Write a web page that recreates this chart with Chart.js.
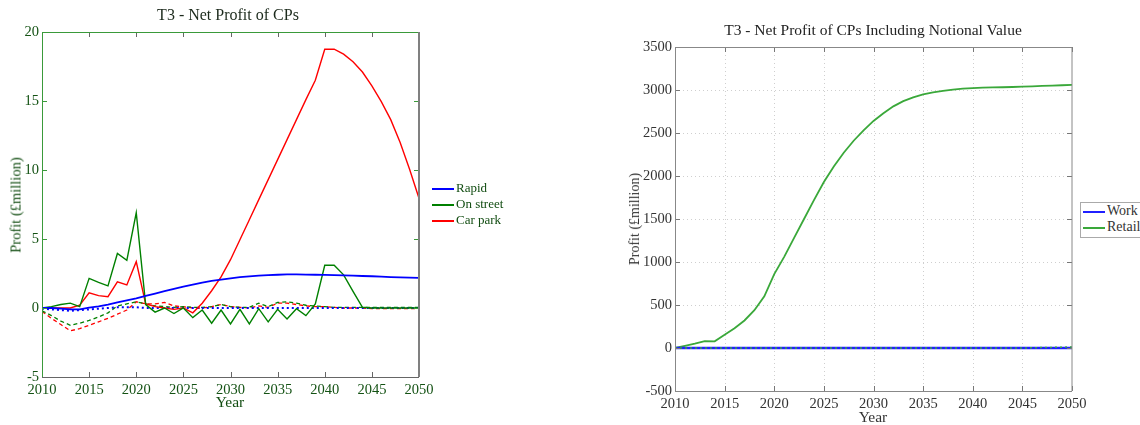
<!DOCTYPE html>
<html>
<head>
<meta charset="utf-8">
<script src="https://cdn.jsdelivr.net/npm/chart.js@4.4.0/dist/chart.umd.min.js"></script>
<style>
  body { margin: 0; width: 1140px; height: 425px; position: relative; overflow: hidden; background: #fff;
         font-family: "Liberation Serif", "DejaVu Serif", serif; }
  canvas { position: absolute; top: 0; }
  .txt { position: absolute; white-space: nowrap; transform: translate(-50%, -50%); }
  .rot { transform: translate(-50%, -50%) rotate(-90deg); }
  .leg { position: absolute; white-space: nowrap; font-size: 13px; line-height: 16px; }
  .leg i { display: inline-block; width: 22px; height: 0; vertical-align: middle; margin-right: 2px; }
</style>
</head>
<body>
<canvas id="cps" width="445" height="425" style="left:0"></canvas>
<canvas id="notional" width="540" height="425" style="left:600px"></canvas>

<!-- left panel text -->
<div class="txt" style="left:228px;top:15px;font-size:16px;color:#1c2a1c">T3 - Net Profit of CPs</div>
<div class="txt" style="left:230px;top:402px;font-size:15.5px;color:#124d12">Year</div>
<div class="txt rot" style="left:16px;top:205px;font-size:14.5px;color:#124d12">Profit (£million)</div>
<div class="leg" style="left:432px;top:180px;color:#124d12"><i style="border-top:2px solid #0000ff"></i>Rapid</div>
<div class="leg" style="left:432px;top:196px;color:#124d12"><i style="border-top:2px solid #008000"></i>On street</div>
<div class="leg" style="left:432px;top:212px;color:#124d12"><i style="border-top:2px solid #ff0000"></i>Car park</div>

<!-- right panel text -->
<div class="txt" style="left:873px;top:30px;font-size:15.5px;color:#222">T3 - Net Profit of CPs Including Notional Value</div>
<div class="txt" style="left:873px;top:417px;font-size:15.5px;color:#333">Year</div>
<div class="txt rot" style="left:635px;top:219px;font-size:14px;color:#333">Profit (£million)</div>
<div style="position:absolute;left:1080px;top:202px;width:80px;height:34px;border:1px solid #aaa;background:#fff"></div>
<div class="leg" style="left:1083px;top:203px;color:#333;font-size:14px"><i style="border-top:2px solid #2020ff"></i>Work</div>
<div class="leg" style="left:1083px;top:219px;color:#333;font-size:14px"><i style="border-top:2px solid #3aa83a"></i>Retail</div>

<script>
const years = [2010, 2011, 2012, 2013, 2014, 2015, 2016, 2017, 2018, 2019,
               2020, 2021, 2022, 2023, 2024, 2025, 2026, 2027, 2028, 2029,
               2030, 2031, 2032, 2033, 2034, 2035, 2036, 2037, 2038, 2039,
               2040, 2041, 2042, 2043, 2044, 2045, 2046, 2047, 2048, 2049, 2050];

// net profit (£million), solid lines
const rapid = [0, 0, -0.05, -0.1, -0.1, 0.02, 0.12, 0.25, 0.4, 0.55,
               0.7, 0.88, 1.05, 1.22, 1.38, 1.55, 1.7, 1.84, 1.96, 2.06,
               2.15, 2.23, 2.29, 2.34, 2.38, 2.41, 2.43, 2.43, 2.42, 2.41,
               2.4, 2.38, 2.36, 2.34, 2.32, 2.3, 2.27, 2.24, 2.22, 2.2, 2.18];
const onStreet = [0, 0.1, 0.25, 0.35, 0.1, 2.15, 1.85, 1.6, 3.95, 3.45,
                  6.9, 0.25, -0.3, 0, -0.4, 0, -0.7, -0.15, -1.1, -0.15,
                  -1.15, -0.1, -1.15, -0.05, -1.0, -0.1, -0.8, -0.05, -0.55, 0.3,
                  3.1, 3.1, 2.4, 1.2, 0.05, 0, 0, 0, 0, 0, 0];
const carPark = [0, 0, 0, 0, 0.2, 1.1, 0.9, 0.82, 1.9, 1.67,
                 3.36, 0.3, 0.1, 0, -0.1, 0, -0.35, 0.35, 1.25, 2.25,
                 3.5, 4.95, 6.4, 7.85, 9.3, 10.75, 12.2, 13.65, 15.1, 16.5,
                 18.75, 18.75, 18.4, 17.85, 17.1, 16.1, 14.95, 13.65, 12.0, 10.05, 7.95];

// dashed / dotted companions
const rapidDot = [-0.05, -0.1, -0.15, -0.2, -0.15, -0.1, -0.05, 0, 0.05, 0.05,
                  0.05, 0, 0, 0, 0, 0, 0, 0, 0, 0,
                  0, 0, 0, 0, 0, 0, 0, 0, 0, 0,
                  0, 0, 0, 0, 0, 0, 0, 0, 0, 0, 0];
const onStreetDash = [-0.2, -0.55, -0.95, -1.25, -1.1, -0.9, -0.65, -0.35, 0.15, 0.3,
                      0.45, 0.3, 0.15, 0.1, 0.05, 0.1, 0.05, 0.05, 0.1, 0.25,
                      0.1, 0.05, 0.05, 0.35, 0.1, 0.4, 0.45, 0.35, 0.2, 0.15,
                      0.1, 0.05, 0.05, 0.05, 0.05, 0.05, 0.05, 0.05, 0.05, 0.05, 0.05];
const carParkDash = [-0.25, -0.75, -1.2, -1.65, -1.5, -1.25, -1.0, -0.75, -0.45, -0.15,
                     0.45, 0.3, 0.3, 0.4, 0.15, 0.1, 0, 0, 0.1, 0.25,
                     0.1, 0.05, 0, 0.15, 0.05, 0.35, 0.35, 0.25, 0.15, 0.1,
                     0.1, 0.05, 0, 0, 0, -0.05, -0.05, -0.05, -0.05, -0.05, -0.05];

// including notional value
const work = [0, 0, 0, 0, 0, 0, 0, 0, 0, 0,
              0, 0, 0, 0, 0, 0, 0, 0, 0, 0,
              0, 0, 0, 0, 0, 0, 0, 0, 0, 0,
              0, 0, 0, 0, 0, 0, 0, 0, 0, 0, 0];
const retail = [0, 25, 50, 80, 78, 155, 230, 320, 440, 600,
                860, 1060, 1280, 1500, 1720, 1930, 2110, 2270, 2410, 2530,
                2640, 2730, 2810, 2870, 2915, 2950, 2972, 2990, 3005, 3015,
                3022, 3027, 3030, 3032, 3035, 3039, 3043, 3047, 3051, 3055, 3060];
const retailDot = [0, 0, 0, 0, 0, 0, 0, 0, 0, 0,
                   0, 0, 0, 0, 0, 0, 0, 0, 0, 0,
                   0, 0, 0, 0, 0, 0, 0, 0, 0, 0,
                   0, 0, 0, 0, 0, 0, 3, 5, 7, 9, 12];

const serif = '"Liberation Serif", "DejaVu Serif", serif';

function pts(vals) {
  return vals.map((v, i) => ({ x: years[i], y: v }));
}

function line(vals, color, width, dash) {
  return {
    data: pts(vals), borderColor: color, borderWidth: width, borderDash: dash || [],
    pointRadius: 0, fill: false, tension: 0
  };
}

// box round the axes with inward ticks, optional dotted grid
const frame = {
  id: 'frame',
  beforeDatasetsDraw(chart, args, o) {
    if (!o.grid) return;
    const { ctx, chartArea: a, scales: { x, y } } = chart;
    ctx.save();
    ctx.strokeStyle = o.grid;
    ctx.lineWidth = 1;
    ctx.setLineDash([1, 3]);
    x.ticks.forEach(t => {
      const px = Math.round(x.getPixelForValue(t.value)) + 0.5;
      if (px <= a.left + 1 || px >= a.right - 1) return;
      ctx.beginPath(); ctx.moveTo(px, a.top); ctx.lineTo(px, a.bottom); ctx.stroke();
    });
    y.ticks.forEach(t => {
      const py = Math.round(y.getPixelForValue(t.value)) + 0.5;
      if (py <= a.top + 1 || py >= a.bottom - 1) return;
      ctx.beginPath(); ctx.moveTo(a.left, py); ctx.lineTo(a.right, py); ctx.stroke();
    });
    ctx.restore();
  },
  afterDatasetsDraw(chart, args, o) {
    const { ctx, chartArea: a, scales: { x, y } } = chart;
    const L = 5;
    ctx.save();
    ctx.lineWidth = 1;
    ctx.strokeStyle = o.xTick;
    x.ticks.forEach(t => {
      const px = Math.round(x.getPixelForValue(t.value)) + 0.5;
      ctx.beginPath();
      ctx.moveTo(px, a.top); ctx.lineTo(px, a.top + L);
      ctx.moveTo(px, a.bottom); ctx.lineTo(px, a.bottom - L);
      ctx.stroke();
    });
    ctx.strokeStyle = o.yTick;
    y.ticks.forEach(t => {
      const py = Math.round(y.getPixelForValue(t.value)) + 0.5;
      ctx.beginPath();
      ctx.moveTo(a.left, py); ctx.lineTo(a.left + L, py);
      ctx.moveTo(a.right, py); ctx.lineTo(a.right - L, py);
      ctx.stroke();
    });
    const side = (x1, y1, x2, y2, c, w) => {
      ctx.strokeStyle = c; ctx.lineWidth = w;
      ctx.beginPath(); ctx.moveTo(x1, y1); ctx.lineTo(x2, y2); ctx.stroke();
    };
    side(a.left + 0.5, a.top, a.left + 0.5, a.bottom, o.left, 1);
    side(a.left, a.top + 0.5, a.right, a.top + 0.5, o.top, 1);
    side(a.right, a.top, a.right, a.bottom, o.right, o.rightWidth || 1);
    side(a.left, a.bottom + 0.5, a.right, a.bottom + 0.5, o.bottom, 1);
    ctx.restore();
  }
};

function makeChart(id, datasets, cfg) {
  return new Chart(document.getElementById(id), {
    type: 'line',
    data: { datasets: datasets },
    plugins: [frame],
    options: {
      responsive: false,
      animation: false,
      layout: { padding: cfg.padding },
      plugins: { legend: { display: false }, tooltip: { enabled: false }, frame: cfg.frame },
      scales: {
        x: {
          type: 'linear', min: 2010, max: 2050,
          grid: { display: false, drawTicks: false }, border: { display: false },
          ticks: { stepSize: 5, autoSkip: false, maxRotation: 0, padding: 4,
                   color: cfg.tickColor, font: { family: serif, size: 14.5 },
                   callback: v => String(v) },
          afterFit(s) { s.height = cfg.xHeight; s.paddingLeft = 0; s.paddingRight = 0; }
        },
        y: {
          min: cfg.yMin, max: cfg.yMax,
          grid: { display: false, drawTicks: false }, border: { display: false },
          ticks: { stepSize: cfg.yStep, padding: 3,
                   color: cfg.tickColor, font: { family: serif, size: 14.5 },
                   callback: v => String(v) },
          afterFit(s) { s.width = cfg.yWidth; s.paddingTop = 0; s.paddingBottom = 0; }
        }
      }
    }
  });
}

makeChart('cps', [
  line(rapid, '#0000ff', 1.8),
  line(onStreet, '#008000', 1.4),
  line(carPark, '#ff0000', 1.4),
  line(rapidDot, '#0000ff', 2, [2, 3]),
  line(onStreetDash, '#008000', 1.3, [4, 3]),
  line(carParkDash, '#ff0000', 1.3, [4, 3])
], {
  padding: { top: 32, right: 26, left: 0, bottom: 0 },
  xHeight: 48, yWidth: 42,
  yMin: -5, yMax: 20, yStep: 5,
  tickColor: '#145214',
  frame: { xTick: '#666', yTick: '#3a9a3a', left: '#3a9a3a', top: '#3a9a3a',
           right: '#808080', rightWidth: 2, bottom: '#666' }
});

makeChart('notional', [
  line(retailDot, '#3aa83a', 1.5, [2, 3]),
  line(work, '#2020ff', 2.5),
  line(retail, '#3aa83a', 1.8)
], {
  padding: { top: 47, right: 68, left: 0, bottom: 0 },
  xHeight: 34, yWidth: 75,
  yMin: -500, yMax: 3500, yStep: 500,
  tickColor: '#333',
  frame: { xTick: '#777', yTick: '#777', left: '#888', top: '#888',
           right: '#888', bottom: '#888', grid: '#cfcfcf' }
});
</script>
</body>
</html>
